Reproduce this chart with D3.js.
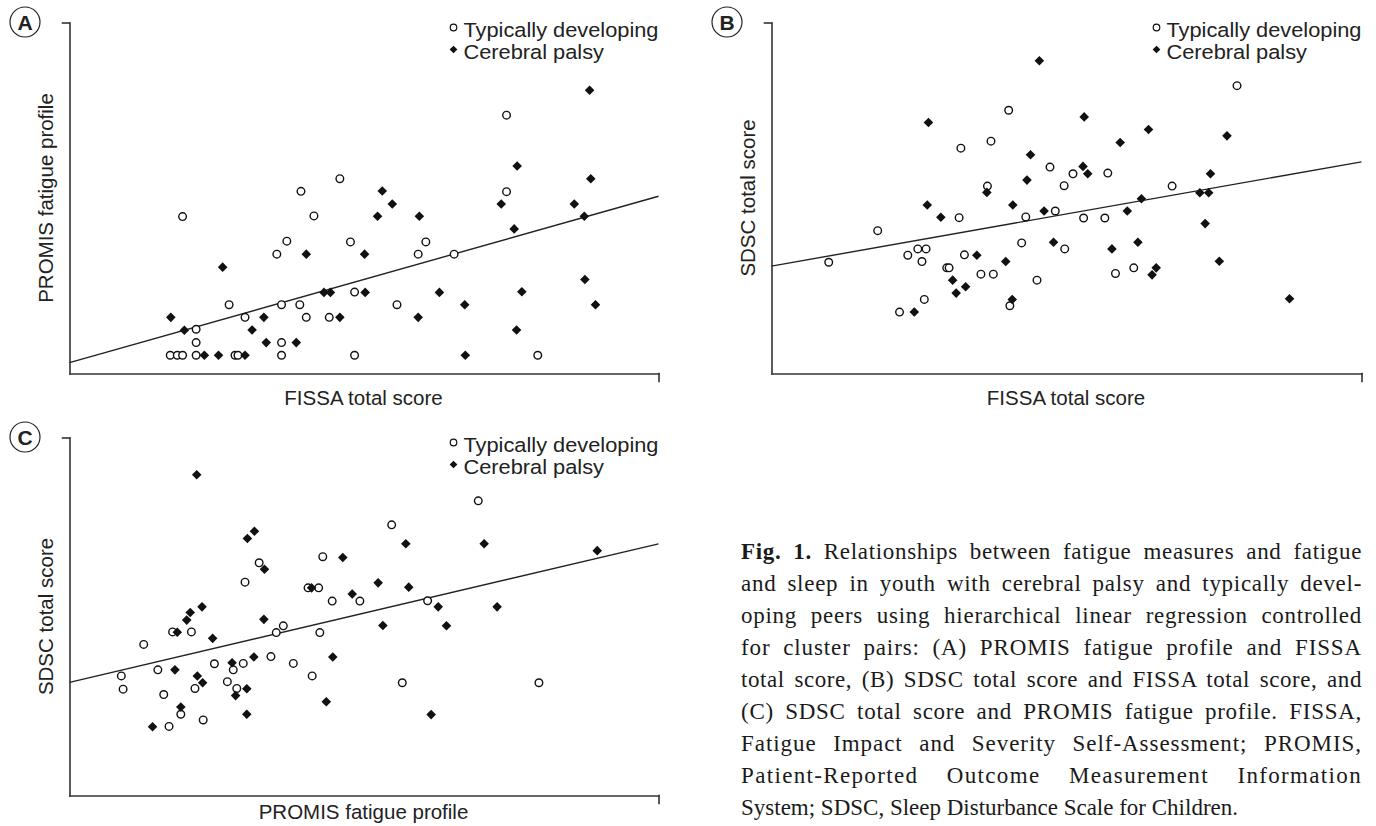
<!DOCTYPE html>
<html>
<head>
<meta charset="utf-8">
<script src="https://cdn.jsdelivr.net/npm/d3@7"></script>
<style>
  body { margin: 0; background: #fff; }
  svg text { font-family: "Liberation Sans", Arial, sans-serif; fill: #222; }
</style>
</head>
<body>
<svg id="fig" width="1376" height="826"></svg>
<script>
// Values, in relative score units (0-100 of each axis)

// (A) PROMIS fatigue profile vs FISSA total score
const tdA = [[19.2,44.7],[39.3,51.9],[45.9,55.5],[41.5,44.9],[36.9,37.7],[35.2,34.0],[47.7,37.5],[48.4,23.2],
  [27.1,19.6],[36.0,19.6],[39.1,19.6],[29.8,16.0],[40.2,16.0],[44.1,16.0],[21.5,12.6],[21.5,8.8],[36.0,8.8],
  [17.1,5.2],[18.3,5.2],[19.2,5.2],[21.5,5.2],[28.1,5.2],[28.6,5.2],[36.0,5.2],[48.4,5.2],
  [74.2,73.6],[74.2,51.8],[60.5,37.5],[59.2,34.0],[65.3,34.0],[55.6,19.6],[79.5,5.2]];
const cpA = [[40.2,34.0],[26.0,30.3],[43.2,23.1],[44.3,23.1],[17.2,16.0],[33.0,16.0],[45.9,16.0],[19.5,12.3],
  [31.0,12.4],[33.4,8.8],[38.5,8.8],[22.9,5.2],[25.3,5.2],[29.8,5.2],
  [88.3,80.7],[76.0,59.1],[88.5,55.5],[53.1,52.0],[54.8,48.3],[73.3,48.3],[85.7,48.3],[52.3,44.8],
  [59.4,44.8],[87.4,44.8],[75.5,41.2],[50.1,34.0],[87.5,26.8],[50.2,23.1],[62.8,23.1],[76.8,23.3],
  [67.1,19.6],[89.3,19.6],[59.2,16.0],[75.9,12.4],[67.2,5.2]];
const fitA = [[0,3.1],[100,50.5]];

// (B) SDSC total score vs FISSA total score
const tdB = [[40.2,75.0],[37.2,66.2],[32.1,64.2],[47.2,58.8],[36.6,53.4],[31.8,44.4],[43.1,44.6],[48.1,46.3],
  [18.0,40.7],[42.4,37.2],[24.8,35.5],[26.2,35.5],[23.1,33.7],[32.7,33.8],[25.5,31.9],[9.7,31.7],
  [29.7,30.1],[30.1,30.1],[35.5,28.3],[37.6,28.3],[45.0,26.6],[25.9,21.1],[40.4,19.3],[21.7,17.5],
  [78.9,82.0],[51.1,56.9],[57.0,57.1],[49.6,53.5],[67.9,53.4],[52.9,44.3],[56.5,44.3],[49.7,35.5],
  [58.3,28.5],[61.4,30.1]];
const cpB = [[45.4,89.1],[26.6,71.5],[43.9,62.3],[43.3,55.1],[36.5,51.6],[26.4,48.0],[40.9,48.0],[28.7,44.5],
  [46.2,46.3],[47.8,37.4],[34.8,33.7],[39.7,31.9],[30.7,26.6],[32.9,24.7],[31.3,22.9],[40.8,21.1],
  [24.2,17.5],[53.0,73.1],[63.9,69.5],[77.2,67.7],[59.1,65.8],[52.8,59.0],[53.6,56.9],[74.4,56.9],
  [72.6,51.5],[74.1,51.5],[62.7,49.8],[60.3,46.3],[73.5,42.7],[62.1,37.4],[57.7,35.5],[75.9,32.0],
  [65.2,30.1],[64.5,28.1],[87.8,21.3]];
const fitB = [[0,30.6],[100,60.3]];

// (C) SDSC total score vs PROMIS fatigue profile
const tdC = [[43.0,66.7],[32.2,65.0],[29.8,59.6],[40.5,58.0],[42.3,58.0],[44.6,54.3],[49.3,54.3],[17.5,45.7],
  [20.7,45.7],[36.3,47.4],[35.1,45.5],[42.5,45.5],[12.6,42.2],[24.6,36.8],[29.5,36.9],[34.2,38.8],
  [27.8,35.1],[38.0,36.9],[15.0,35.1],[8.8,33.4],[41.2,33.4],[26.8,31.8],[9.1,29.7],[21.3,29.9],
  [28.4,29.9],[16.0,28.2],[18.9,22.7],[22.7,21.1],[16.9,19.3],
  [69.4,82.3],[54.7,75.6],[60.8,54.4],[56.5,31.5],[79.7,31.5]];
const cpC = [[21.6,89.6],[30.2,71.8],[31.4,73.8],[33.1,63.2],[46.4,66.5],[41.1,58.0],[48.0,56.3],[22.5,52.7],
  [20.5,51.1],[19.9,49.0],[33.0,49.2],[18.3,45.6],[24.3,43.9],[44.7,38.7],[31.3,38.7],[27.6,37.1],
  [17.9,35.1],[21.7,33.4],[22.6,31.5],[30.1,29.8],[28.2,27.9],[18.9,24.7],[43.6,26.2],[30.1,22.7],
  [14.1,19.2],[57.1,70.3],[70.4,70.3],[89.6,68.4],[52.4,59.4],[57.6,58.2],[62.6,52.7],[72.6,52.7],
  [53.2,47.5],[64.0,47.4],[61.4,22.6]];
const fitC = [[0,31.6],[100,70.3]];

const legendLabels = ["Typically developing", "Cerebral palsy"];

const captionLines = [
  ["Fig. 1.", " Relationships between fatigue measures and fatigue"],
  ["", "and sleep in youth with cerebral palsy and typically devel-"],
  ["", "oping peers using hierarchical linear regression controlled"],
  ["", "for cluster pairs: (A) PROMIS fatigue profile and FISSA"],
  ["", "total score, (B) SDSC total score and FISSA total score, and"],
  ["", "(C) SDSC total score and PROMIS fatigue profile. FISSA,"],
  ["", "Fatigue Impact and Severity Self-Assessment; PROMIS,"],
  ["", "Patient-Reported Outcome Measurement Information"],
  ["", "System; SDSC, Sleep Disturbance Scale for Children."]
];

const svg = d3.select("#fig");

const panels = [
  {letter: "A", left: 69.5, top: 22.5, right: 658.5, bottom: 373.5, td: tdA, cp: cpA, fit: fitA,
   xLabel: "FISSA total score", yLabel: "PROMIS fatigue profile", xLabelY: 405},
  {letter: "B", left: 771.5, top: 22.5, right: 1361.5, bottom: 373.5, td: tdB, cp: cpB, fit: fitB,
   xLabel: "FISSA total score", yLabel: "SDSC total score", xLabelY: 405},
  {letter: "C", left: 69.5, top: 437.5, right: 658.5, bottom: 795.5, td: tdC, cp: cpC, fit: fitC,
   xLabel: "PROMIS fatigue profile", yLabel: "SDSC total score", xLabelY: 819}
];

const diamond = d3.symbol(d3.symbolSquare, 46);
const smallDiamond = d3.symbol(d3.symbolSquare, 30);

panels.forEach(function (p) {
  const g = svg.append("g");

  const x = d3.scaleLinear().domain([0, 100]).range([p.left, p.right]);
  const y = d3.scaleLinear().domain([0, 100]).range([p.bottom, p.top]);

  // axes: only the domain line and one end tick, no labels
  g.append("g")
    .attr("transform", `translate(${p.left},0)`)
    .call(d3.axisLeft(y).tickValues([100]).tickSize(7).tickSizeOuter(0).tickFormat(""))
    .call(a => a.selectAll("path, line").attr("stroke", "#333").attr("stroke-width", 1.6)
      .attr("stroke-linecap", "square"));

  g.append("g")
    .attr("transform", `translate(0,${p.bottom})`)
    .call(d3.axisBottom(x).tickValues([100]).tickSize(8).tickSizeOuter(0).tickFormat(""))
    .call(a => a.selectAll("path, line").attr("stroke", "#333").attr("stroke-width", 1.6)
      .attr("stroke-linecap", "square"));

  // regression line
  g.append("path")
    .datum(p.fit)
    .attr("d", d3.line().x(d => x(d[0])).y(d => y(d[1])))
    .attr("fill", "none")
    .attr("stroke", "#222")
    .attr("stroke-width", 1.4);

  // typically developing: open circles
  g.selectAll(".td")
    .data(p.td)
    .enter()
    .append("circle")
    .attr("class", "td")
    .attr("cx", d => x(d[0]))
    .attr("cy", d => y(d[1]))
    .attr("r", 3.8)
    .attr("fill", "#fff")
    .attr("stroke", "#111")
    .attr("stroke-width", 1.4);

  // cerebral palsy: filled diamonds
  g.selectAll(".cp")
    .data(p.cp)
    .enter()
    .append("path")
    .attr("class", "cp")
    .attr("d", diamond)
    .attr("transform", d => `translate(${x(d[0])},${y(d[1])}) rotate(45)`)
    .attr("fill", "#111");

  // axis titles
  g.append("text")
    .attr("x", (p.left + p.right) / 2 - 0.5)
    .attr("y", p.xLabelY)
    .attr("text-anchor", "middle")
    .attr("font-size", "20.5px")
    .text(p.xLabel);

  g.append("text")
    .attr("transform", `translate(${p.left - 17},${(p.top + p.bottom) / 2}) rotate(-90)`)
    .attr("text-anchor", "middle")
    .attr("font-size", "20.5px")
    .text(p.yLabel);

  // legend, its text ends at the right edge of the plot
  const legendX = p.right - 205;
  const leg = g.append("g");
  leg.append("circle")
    .attr("cx", legendX).attr("cy", p.top + 5).attr("r", 3.3)
    .attr("fill", "#fff").attr("stroke", "#111").attr("stroke-width", 1.2);
  leg.append("path")
    .attr("d", smallDiamond)
    .attr("transform", `translate(${legendX},${p.top + 27}) rotate(45)`)
    .attr("fill", "#111");
  const texts = legendLabels.map(function (t, i) {
    return leg.append("text")
      .attr("x", legendX + 10)
      .attr("y", p.top + 14 + i * 22.5)
      .attr("font-size", "20.5px")
      .text(t);
  });
  const stretch = (p.right - legendX - 10) / texts[0].node().getComputedTextLength();
  texts.forEach(function (t) {
    t.attr("textLength", (t.node().getComputedTextLength() * stretch).toFixed(1))
      .attr("lengthAdjust", "spacingAndGlyphs");
  });

  // panel letter in a circle
  const lx = p.left - 44.5, ly = p.top - 0.5;
  g.append("circle")
    .attr("cx", lx).attr("cy", ly).attr("r", 15)
    .attr("fill", "#fff").attr("stroke", "#222").attr("stroke-width", 1.2);
  g.append("text")
    .attr("x", lx).attr("y", ly + 7.5)
    .attr("text-anchor", "middle")
    .attr("font-size", "21px")
    .attr("font-weight", "bold")
    .text(p.letter);
});

// caption, justified between two edges (half word spacing, half tracking)
const capLeft = 741, capRight = 1362, capTop = 559, capStep = 32;
captionLines.forEach(function (ln, i) {
  const t = svg.append("text")
    .attr("x", capLeft)
    .attr("y", capTop + i * capStep)
    .attr("font-size", "23px")
    .style("font-family", "'Liberation Serif', 'DejaVu Serif', serif")
    .style("fill", "#1a1a1a");
  if (ln[0]) t.append("tspan").attr("font-weight", "bold").text(ln[0]);
  t.append("tspan").text(ln[1]);
  if (i < captionLines.length - 1) {
    const full = ln[0] + ln[1];
    const natural = t.node().getComputedTextLength();
    const extra = capRight - capLeft - natural;
    const spaces = full.split(" ").length - 1;
    const ls = extra * 0.5 / full.length;
    const ws = extra * 0.5 / spaces;
    t.attr("letter-spacing", ls.toFixed(3)).attr("word-spacing", ws.toFixed(3));
  }
});
</script>
</body>
</html>
